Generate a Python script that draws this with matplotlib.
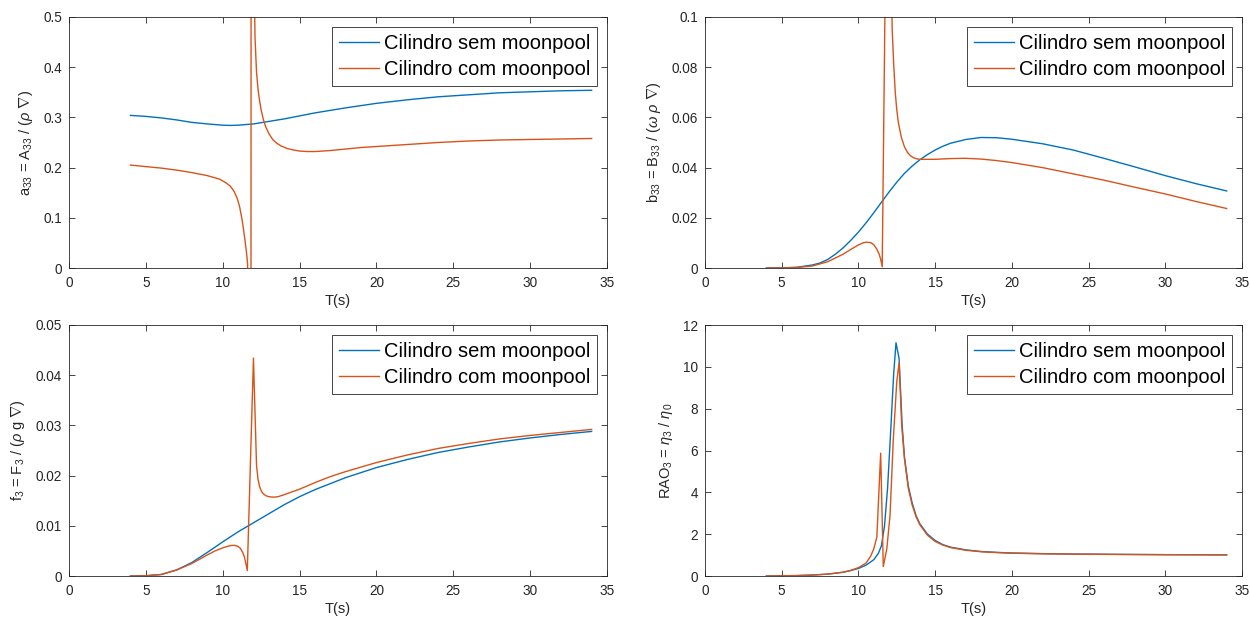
import matplotlib
matplotlib.use('Agg')
import matplotlib.pyplot as plt
from matplotlib.ticker import FormatStrFormatter

plt.rcParams['font.family'] = ['Liberation Sans', 'DejaVu Sans']
plt.rcParams['mathtext.fontset'] = 'custom'
plt.rcParams['mathtext.rm'] = 'Liberation Sans'
plt.rcParams['mathtext.it'] = 'Liberation Sans:italic'

# Colours (MATLAB default order)
c_sem = '#0072BD'
c_com = '#D95319'
dark = '#262626'

labels = ['Cilindro sem moonpool', 'Cilindro com moonpool']

# ---- a33 = A33 / (rho V) ----
T_a_sem = [4, 5, 6, 7, 8, 9, 10, 10.5, 11, 12, 13, 14, 15, 16, 18, 20, 22, 24, 26, 28, 30, 32, 34]
a_sem = [0.304, 0.302, 0.299, 0.295, 0.290, 0.287, 0.2845, 0.284, 0.2845, 0.287, 0.292, 0.297,
         0.303, 0.309, 0.319, 0.328, 0.335, 0.341, 0.345, 0.349, 0.351, 0.353, 0.354]
T_a_com = [4, 5, 6, 7, 8, 9, 9.8, 10.2, 10.5, 10.75, 10.95, 11.1, 11.25, 11.35, 11.45, 11.55,
           11.62, 11.8, 11.9, 12.0, 12.1, 12.2, 12.3, 12.4, 12.5, 12.65, 12.8, 13.0, 13.25, 13.5,
           13.8, 14.2, 14.6, 15, 15.5, 16, 17, 18, 19, 20, 22, 24, 26, 28, 30, 32, 34]
a_com = [0.205, 0.202, 0.199, 0.195, 0.190, 0.184, 0.177, 0.170, 0.163, 0.152, 0.138, 0.122,
         0.098, 0.078, 0.055, 0.030, 0.008, -4.0, 6.0, 0.7, 0.46, 0.39, 0.355, 0.333, 0.315,
         0.295, 0.281, 0.268, 0.256, 0.249, 0.243, 0.238, 0.235, 0.233, 0.232, 0.232, 0.234,
         0.237, 0.240, 0.242, 0.246, 0.250, 0.253, 0.255, 0.256, 0.257, 0.258]

# ---- b33 = B33 / (omega rho V) ----
T_b_sem = [4, 5, 6, 7, 7.5, 8, 8.5, 9, 9.5, 10, 10.5, 11, 11.5, 12, 12.5, 13, 13.5, 14, 14.5, 15,
           15.5, 16, 17, 18, 19, 20, 22, 24, 26, 28, 30, 32, 34]
b_sem = [0.0, 0.00005, 0.0003, 0.0012, 0.002, 0.0034, 0.0055, 0.0080, 0.0110, 0.0143, 0.0180,
         0.0220, 0.0262, 0.0303, 0.0342, 0.0377, 0.0406, 0.0431, 0.0452, 0.047, 0.0485, 0.0497,
         0.0512, 0.052, 0.0519, 0.0513, 0.0495, 0.047, 0.0437, 0.0403, 0.0368, 0.0336, 0.0307]
T_b_com = [4, 5, 6, 7, 8, 9, 9.5, 10, 10.3, 10.5, 10.8, 11.0, 11.2, 11.35, 11.45, 11.55, 11.9,
           12.0, 12.1, 12.2, 12.3, 12.4, 12.5, 12.6, 12.8, 13.0, 13.2, 13.4, 13.6, 13.8, 14, 15,
           16, 17, 18, 19, 20, 22, 24, 26, 28, 30, 32, 34]
b_com = [0.0, 0.00003, 0.0002, 0.0008, 0.0025, 0.0055, 0.0074, 0.0092, 0.0100, 0.0103, 0.0101,
         0.0093, 0.0075, 0.0055, 0.0035, 0.0005, 0.2, 0.18, 0.13, 0.095, 0.081, 0.07, 0.063,
         0.058, 0.052, 0.0483, 0.0460, 0.0447, 0.0439, 0.0435, 0.0433, 0.0433, 0.0436, 0.0437,
         0.0434, 0.0428, 0.042, 0.040, 0.0375, 0.035, 0.0322, 0.0295, 0.0265, 0.0237]

# ---- f3 = F3 / (rho g V) ----
T_f_sem = [4, 5, 6, 7, 8, 9, 10, 11, 12, 13, 14, 15, 16, 18, 20, 22, 24, 26, 28, 30, 32, 34]
f_sem = [0.0, 0.00005, 0.0003, 0.0012, 0.0027, 0.0047, 0.0068, 0.0088, 0.0106, 0.0124, 0.0142,
         0.0158, 0.0172, 0.0196, 0.0216, 0.0232, 0.0246, 0.0257, 0.0267, 0.0275, 0.0282, 0.0288]
T_f_com = [4, 5, 6, 7, 8, 9, 9.5, 10, 10.3, 10.6, 10.8, 11.0, 11.15, 11.3, 11.4, 11.5, 11.6, 12.0,
           12.2, 12.3, 12.4, 12.5, 12.6, 12.8, 13.0, 13.3, 13.6, 14, 15, 16, 17, 18, 20, 22, 24,
           26, 28, 30, 32, 34]
f_com = [0.0, 0.00005, 0.0003, 0.0012, 0.0025, 0.0042, 0.0050, 0.0056, 0.0059, 0.0061, 0.0061,
         0.0059, 0.0055, 0.0047, 0.0039, 0.0026, 0.0011, 0.0434, 0.022, 0.0192, 0.0178, 0.0170,
         0.0165, 0.0160, 0.0158, 0.0157, 0.0158, 0.0162, 0.0173, 0.0186, 0.0198, 0.0208, 0.0226,
         0.0241, 0.0254, 0.0264, 0.0273, 0.028, 0.0286, 0.0292]

# ---- RAO3 = eta3 / eta0 ----
T_r_sem = [4, 5, 6, 7, 8, 9, 9.5, 10, 10.5, 11, 11.3, 11.5, 11.7, 11.9, 12.1, 12.3, 12.45, 12.65,
           12.85, 13.0, 13.25, 13.5, 13.75, 14.0, 14.5, 15.0, 15.5, 16, 17, 18, 19, 20, 22, 24,
           26, 28, 30, 32, 34]
r_sem = [0.0, 0.01, 0.02, 0.045, 0.09, 0.18, 0.26, 0.36, 0.52, 0.78, 1.08, 1.45, 2.4, 4.2, 6.9,
         9.7, 11.15, 10.4, 7.2, 5.7, 4.3, 3.5, 2.9, 2.5, 2.0, 1.7, 1.5, 1.38, 1.25, 1.17, 1.13,
         1.1, 1.07, 1.05, 1.04, 1.03, 1.02, 1.015, 1.01]
T_r_com = [4, 5, 6, 7, 8, 9, 9.5, 10, 10.5, 10.8, 11.0, 11.2, 11.45, 11.62, 11.85, 12.06, 12.27,
           12.5, 12.65, 12.82, 13.0, 13.25, 13.5, 13.75, 14, 14.5, 15, 15.5, 16, 17, 18, 19, 20,
           22, 24, 26, 28, 30, 32, 34]
r_com = [0.0, 0.01, 0.02, 0.045, 0.09, 0.18, 0.27, 0.4, 0.62, 0.95, 1.3, 1.85, 5.87, 0.45, 1.3,
         2.9, 6.5, 9.3, 10.2, 7.2, 5.6, 4.2, 3.4, 2.85, 2.45, 1.95, 1.65, 1.48, 1.36, 1.23, 1.16,
         1.12, 1.09, 1.06, 1.045, 1.035, 1.025, 1.02, 1.015, 1.01]

ylabels = [r'a$_{33}$ = A$_{33}$ / ($\rho$ $\nabla$)',
           r'b$_{33}$ = B$_{33}$ / ($\omega$ $\rho$ $\nabla$)',
           r'f$_3$ = F$_3$ / ($\rho$ g $\nabla$)',
           r'RAO$_3$ = $\eta_3$ / $\eta_0$']
ylims = [0.5, 0.1, 0.05, 12]

panels = [(T_a_sem, a_sem, T_a_com, a_com),
          (T_b_sem, b_sem, T_b_com, b_com),
          (T_f_sem, f_sem, T_f_com, f_com),
          (T_r_sem, r_sem, T_r_com, r_com)]

fig = plt.figure(figsize=(12.5, 6.17), dpi=100)
W, H = 1250, 617
boxes = [(69, 17, 607, 268), (705, 17, 1242, 268),
         (69, 325, 607, 576), (705, 325, 1242, 576)]

for i, (box, data) in enumerate(zip(boxes, panels)):
    x0, y0, x1, y1 = box
    ax = fig.add_axes([x0 / W, 1 - y1 / H, (x1 - x0) / W, (y1 - y0) / H])
    ts, vs, tc, vc = data
    ax.plot(ts, vs, color=c_sem, lw=1.0, label=labels[0])
    ax.plot(tc, vc, color=c_com, lw=1.0, label=labels[1])
    ax.set_xlim(0, 35)
    ax.set_ylim(0, ylims[i])
    ax.set_xticks([0, 5, 10, 15, 20, 25, 30, 35])
    ax.yaxis.set_major_formatter(FormatStrFormatter('%g'))
    ax.tick_params(direction='in', top=True, right=True, length=4, width=0.6,
                   colors=dark, labelsize=9.8, labelcolor=dark)
    ax.tick_params(axis='x', pad=6)
    ax.tick_params(axis='y', pad=5)
    for s in ax.spines.values():
        s.set_color(dark)
        s.set_linewidth(0.6)
    ax.set_xlabel('T(s)', fontsize=10.5, color=dark, labelpad=3)
    ax.set_ylabel(ylabels[i], fontsize=10.5, color=dark, labelpad=6)
    leg = ax.legend(loc='upper right', fontsize=14.5, fancybox=False, framealpha=1,
                    edgecolor=dark, borderaxespad=0.5, borderpad=0.35,
                    labelspacing=0.35, handlelength=2.0, handletextpad=0.2)
    leg.get_frame().set_linewidth(0.6)

fig.savefig('out.png', dpi=100)
